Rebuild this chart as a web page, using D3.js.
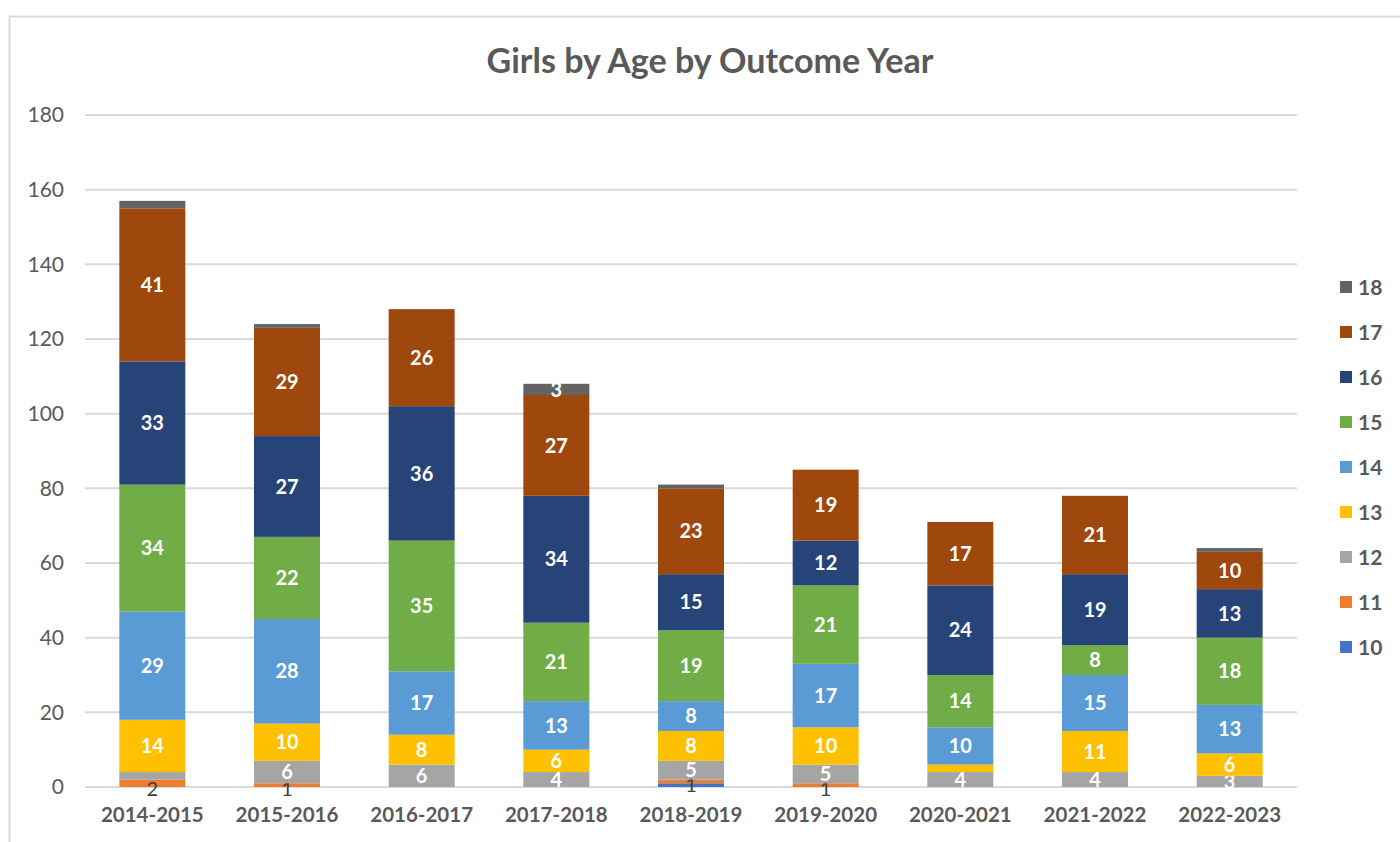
<!DOCTYPE html>
<html>
<head>
<meta charset="utf-8">
<script src="https://cdn.jsdelivr.net/npm/d3@7"></script>
<style>
  body { margin: 0; background: #fff; }
  svg { font-family: Lato, "Open Sans", sans-serif; }
  .axis text { fill: #595959; }
</style>
</head>
<body>
<svg width="1400" height="842"></svg>
<script>
// outcome years (x categories)
var years = ["2014-2015", "2015-2016", "2016-2017", "2017-2018", "2018-2019",
             "2019-2020", "2020-2021", "2021-2022", "2022-2023"];
// ages, bottom of stack first
var ages = ["10", "11", "12", "13", "14", "15", "16", "17", "18"];
var age10 = [0, 0, 0, 0, 1, 0, 0, 0, 0];
var age11 = [2, 1, 0, 0, 1, 1, 0, 0, 0];
var age12 = [2, 6, 6, 4, 5, 5, 4, 4, 3];
var age13 = [14, 10, 8, 6, 8, 10, 2, 11, 6];
var age14 = [29, 28, 17, 13, 8, 17, 10, 15, 13];
var age15 = [34, 22, 35, 21, 19, 21, 14, 8, 18];
var age16 = [33, 27, 36, 34, 15, 12, 24, 19, 13];
var age17 = [41, 29, 26, 27, 23, 19, 17, 21, 10];
var age18 = [2, 1, 0, 3, 1, 0, 0, 0, 1];
var yTicks = [0, 20, 40, 60, 80, 100, 120, 140, 160, 180];

var colors = ["#4472C4", "#ED7D31", "#A5A5A5", "#FFC000", "#5B9BD5",
              "#70AD47", "#264478", "#9E480E", "#636363"];

var series = [age10, age11, age12, age13, age14, age15, age16, age17, age18];
var table = years.map(function(y, i) {
  var row = {year: y};
  ages.forEach(function(a, k) { row[a] = series[k][i]; });
  return row;
});

var svg = d3.select("svg"),
    margin = {top: 115, right: 103, bottom: 55, left: 85},
    width = 1400 - margin.left - margin.right,
    height = 842 - margin.top - margin.bottom,
    g = svg.append("g").attr("transform", "translate(" + margin.left + "," + margin.top + ")");

// chart frame
svg.append("rect")
    .attr("x", 9.5).attr("y", 16.5)
    .attr("width", 1400).attr("height", 900)
    .attr("fill", "none")
    .attr("stroke", "#d9d9d9")
    .attr("stroke-width", 2);

svg.append("text")
    .attr("x", 710).attr("y", 73)
    .attr("text-anchor", "middle")
    .attr("font-size", 34)
    .attr("font-weight", "bold")
    .attr("fill", "#595959")
    .text("Girls by Age by Outcome Year");

var x = d3.scaleBand()
    .domain(years)
    .range([0, width])
    .paddingInner(0.51)
    .paddingOuter(0.255);

var y = d3.scaleLinear()
    .domain([0, 180])
    .range([height, 0]);

// gridlines
g.append("g")
  .selectAll("line")
  .data(yTicks)
  .enter().append("line")
    .attr("x1", 0).attr("x2", width)
    .attr("y1", function(d) { return y(d); })
    .attr("y2", function(d) { return y(d); })
    .attr("stroke", "#d9d9d9")
    .attr("stroke-width", 2);

g.append("g")
    .attr("class", "axis")
    .call(d3.axisLeft(y).tickValues(yTicks).tickSize(0).tickPadding(21))
    .call(function(a) { a.select(".domain").remove(); })
    .selectAll("text")
    .attr("font-size", 21)
    .style("font-family", "Lato, sans-serif");

g.append("g")
    .attr("class", "axis")
    .attr("transform", "translate(0," + height + ")")
    .call(d3.axisBottom(x).tickSize(0).tickPadding(20))
    .call(function(a) { a.select(".domain").remove(); })
    .selectAll("text")
    .attr("font-size", 20.5)
    .attr("font-weight", "bold")
    .style("font-family", "Lato, sans-serif");

var stacked = d3.stack().keys(ages)(table);

var layer = g.selectAll(".layer")
  .data(stacked)
  .enter().append("g")
    .attr("class", "layer")
    .attr("fill", function(d, i) { return colors[i]; });

layer.selectAll("rect")
  .data(function(d) { return d; })
  .enter().append("rect")
    .attr("x", function(d) { return x(d.data.year); })
    .attr("y", function(d) { return y(d[1]); })
    .attr("height", function(d) { return y(d[0]) - y(d[1]); })
    .attr("width", x.bandwidth());

// data labels: age 11 labels sit low in dark grey (age 10's only "1" shares its spot)
layer.each(function(s, i) {
  if (i === 0) return;
  var dark = i === 1;
  d3.select(this).selectAll("text")
    .data(s.filter(function(d) {
      var v = d[1] - d[0];
      return dark ? v > 0 : v >= 3;
    }))
    .enter().append("text")
      .attr("x", function(d) { return x(d.data.year) + x.bandwidth() / 2; })
      .attr("y", function(d) { return dark ? y(d[0]) + 2 : (y(d[0]) + y(d[1])) / 2; })
      .attr("dy", "0.36em")
      .attr("text-anchor", "middle")
      .attr("font-size", 20)
      .attr("font-weight", dark ? "normal" : "bold")
      .attr("fill", dark ? "#404040" : "#fff")
      .text(function(d) { return d[1] - d[0]; });
});

// legend, top to bottom 18..10
var legend = svg.append("g")
  .selectAll("g")
  .data(ages.slice().reverse())
  .enter().append("g")
    .attr("transform", function(d, i) { return "translate(1340," + (287 + i * 45) + ")"; });

legend.append("rect")
    .attr("x", 0).attr("y", -6)
    .attr("width", 12).attr("height", 12)
    .attr("fill", function(d) { return colors[ages.indexOf(d)]; });

legend.append("text")
    .attr("x", 18).attr("dy", "0.36em")
    .attr("font-size", 21)
    .attr("font-weight", "bold")
    .attr("fill", "#595959")
    .text(function(d) { return d; });
</script>
</body>
</html>
